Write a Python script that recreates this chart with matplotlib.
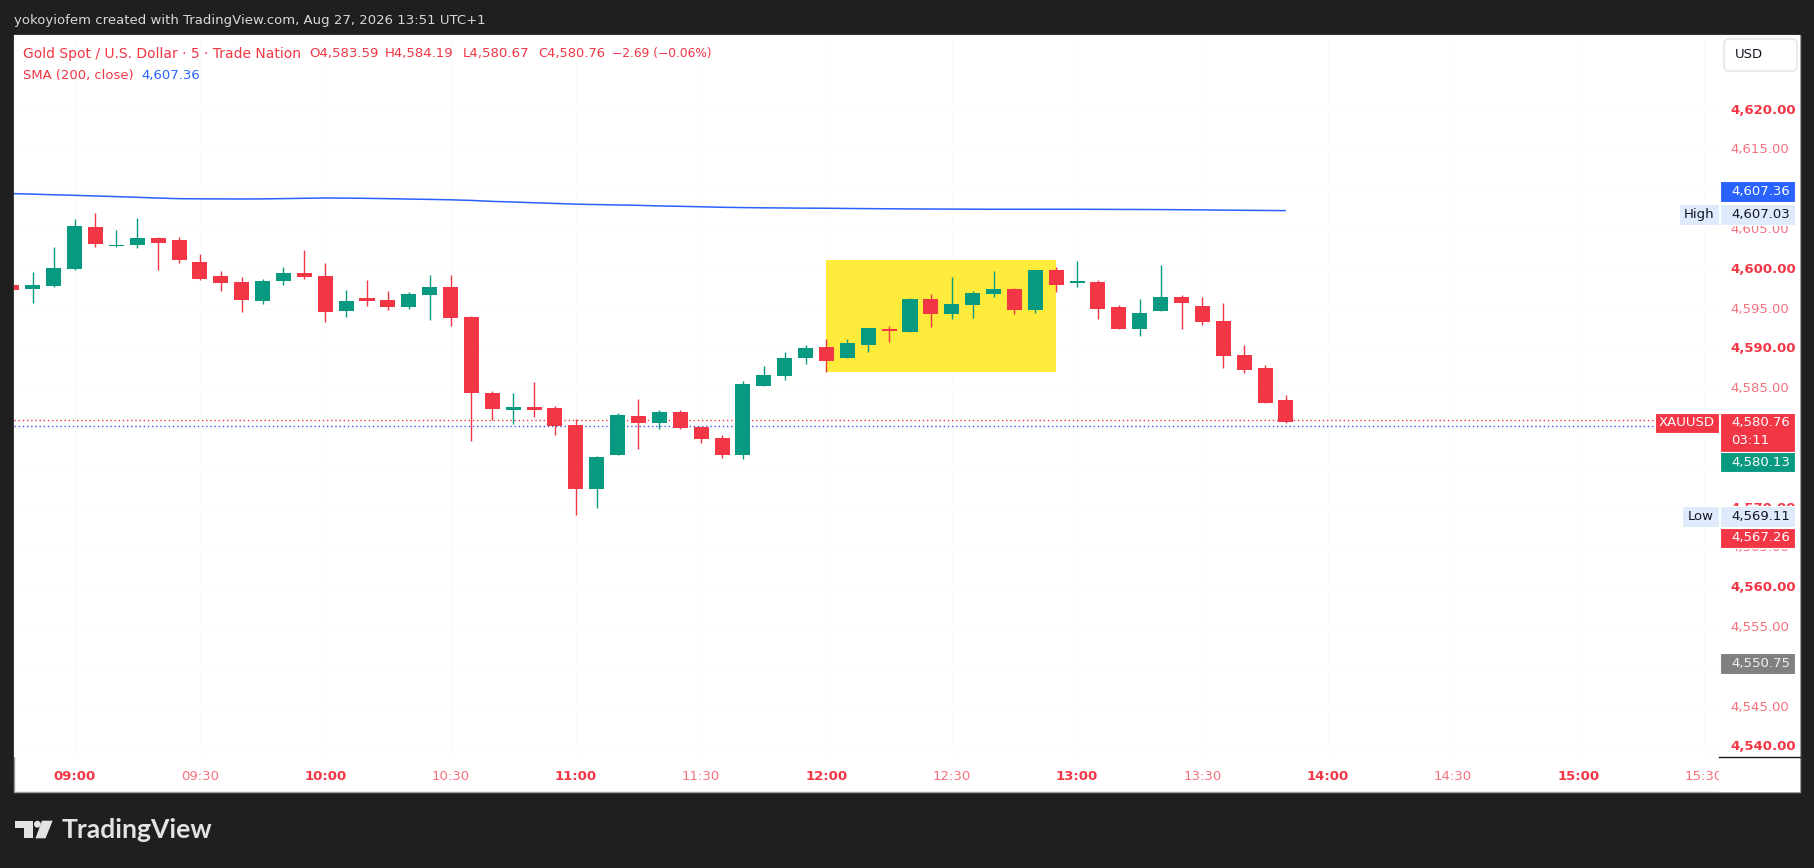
import matplotlib
matplotlib.use("Agg")
import matplotlib.pyplot as plt
import matplotlib.transforms as mtransforms
from matplotlib.patches import Rectangle, FancyBboxPatch, Polygon, Circle

# ---------------------------------------------------------------- data
bar_times = ["08:45", "08:50", "08:55", "09:00", "09:05", "09:10", "09:15", "09:20",
             "09:25", "09:30", "09:35", "09:40", "09:45", "09:50", "09:55", "10:00",
             "10:05", "10:10", "10:15", "10:20", "10:25", "10:30", "10:35", "10:40",
             "10:45", "10:50", "10:55", "11:00", "11:05", "11:10", "11:15", "11:20",
             "11:25", "11:30", "11:35", "11:40", "11:45", "11:50", "11:55", "12:00",
             "12:05", "12:10", "12:15", "12:20", "12:25", "12:30", "12:35", "12:40",
             "12:45", "12:50", "12:55", "13:00", "13:05", "13:10", "13:15", "13:20",
             "13:25", "13:30", "13:35", "13:40", "13:45", "13:50"]

opens = [4598.00, 4597.50, 4597.89, 4600.03, 4605.30, 4602.92, 4603.04, 4603.92,
         4603.67, 4600.91, 4599.15, 4598.39, 4596.01, 4598.52, 4599.53, 4599.15,
         4594.75, 4596.38, 4596.13, 4595.25, 4596.76, 4597.77, 4593.99, 4584.45,
         4582.35, 4582.69, 4582.56, 4580.43, 4572.43, 4576.70, 4581.56, 4580.72,
         4582.06, 4580.17, 4578.79, 4576.70, 4585.37, 4586.62, 4588.88, 4590.22,
         4588.88, 4590.52, 4592.49, 4592.15, 4596.25, 4594.41, 4595.54, 4596.92,
         4597.51, 4594.91, 4599.90, 4598.35, 4598.39, 4595.25, 4592.53, 4594.79,
         4596.50, 4595.38, 4593.49, 4589.22, 4587.59, 4583.59]

highs = [4598.10, 4599.60, 4602.79, 4606.31, 4607.03, 4604.93, 4606.44, 4604.05,
         4604.05, 4601.91, 4599.78, 4599.02, 4598.77, 4600.28, 4602.42, 4600.78,
         4597.39, 4598.65, 4597.26, 4597.14, 4599.27, 4599.27, 4594.12, 4584.70,
         4584.45, 4585.83, 4582.81, 4581.14, 4576.53, 4581.93, 4583.69, 4582.31,
         4582.31, 4580.20, 4579.17, 4585.95, 4587.84, 4589.60, 4590.48, 4591.23,
         4591.23, 4592.65, 4592.86, 4596.38, 4596.88, 4599.02, 4597.26, 4599.77,
         4597.64, 4599.95, 4600.27, 4601.03, 4598.64, 4595.50, 4596.25, 4600.53,
         4596.76, 4596.50, 4595.75, 4590.47, 4587.96, 4584.19]

lows = [4597.30, 4595.80, 4597.80, 4599.90, 4602.79, 4602.79, 4602.67, 4599.90,
        4600.78, 4598.70, 4597.26, 4594.63, 4595.63, 4598.02, 4598.77, 4593.37,
        4594.00, 4595.38, 4594.88, 4595.00, 4593.62, 4592.87, 4578.46, 4581.10,
        4580.55, 4581.47, 4579.21, 4569.11, 4570.04, 4576.60, 4577.45, 4579.96,
        4579.96, 4578.21, 4576.32, 4576.20, 4585.30, 4586.12, 4588.13, 4587.13,
        4588.80, 4589.64, 4590.89, 4592.10, 4592.78, 4593.78, 4593.91, 4596.55,
        4594.41, 4594.54, 4597.18, 4597.81, 4593.78, 4592.50, 4591.65, 4594.75,
        4592.53, 4593.03, 4587.63, 4587.00, 4583.20, 4580.67]

closes = [4597.40, 4598.00, 4600.15, 4605.43, 4603.17, 4603.04, 4603.92, 4603.29,
          4601.16, 4598.77, 4598.27, 4596.13, 4598.52, 4599.53, 4599.02, 4594.63,
          4596.01, 4596.01, 4595.25, 4596.89, 4597.77, 4593.87, 4584.49, 4582.48,
          4582.69, 4582.35, 4580.34, 4572.43, 4576.41, 4581.68, 4580.72, 4582.06,
          4580.09, 4578.71, 4576.70, 4585.58, 4586.71, 4588.84, 4590.10, 4588.51,
          4590.73, 4592.61, 4592.28, 4596.25, 4594.41, 4595.63, 4597.01, 4597.51,
          4594.91, 4599.90, 4598.06, 4598.43, 4595.04, 4592.53, 4594.50, 4596.50,
          4595.79, 4593.41, 4589.13, 4587.38, 4583.23, 4580.76]

sma200 = [4609.50, 4609.43, 4609.35, 4609.28, 4609.20, 4609.12, 4609.03, 4608.94,
          4608.86, 4608.84, 4608.83, 4608.82, 4608.83, 4608.87, 4608.91, 4608.95,
          4608.93, 4608.90, 4608.86, 4608.81, 4608.77, 4608.72, 4608.64, 4608.52,
          4608.44, 4608.35, 4608.26, 4608.17, 4608.12, 4608.07, 4608.02, 4607.95,
          4607.90, 4607.84, 4607.78, 4607.74, 4607.71, 4607.69, 4607.67, 4607.66,
          4607.63, 4607.61, 4607.59, 4607.57, 4607.56, 4607.55, 4607.54, 4607.53,
          4607.53, 4607.53, 4607.53, 4607.53, 4607.52, 4607.51, 4607.50, 4607.49,
          4607.47, 4607.45, 4607.42, 4607.40, 4607.38, 4607.36]

price_ticks = [4540.0, 4545.0, 4550.0, 4555.0, 4560.0, 4565.0, 4570.0, 4575.0, 4580.0,
               4585.0, 4590.0, 4595.0, 4600.0, 4605.0, 4610.0, 4615.0, 4620.0]
hidden_price_ticks = [4580.0, 4610.0]   # fully covered by price tags in the reference
time_ticks = ["09:00", "09:30", "10:00", "10:30", "11:00", "11:30", "12:00", "12:30",
              "13:00", "13:30", "14:00", "14:30", "15:00", "15:30"]

zone_times = ["12:00", "12:55"]
zone_prices = [4587.13, 4601.16]

high_value = 4607.03
low_value = 4569.11
ask_value = 4580.13
bid_line_value = 4580.35
alert_red_value = 4567.26
gray_value = 4550.75
countdown = "03:11"
symbol_tag = "XAUUSD"
change_abs = "\u22122.69"
change_pct = "(\u22120.06%)"

header_text = "yokoyiofem created with TradingView.com, Aug 27, 2026 13:51 UTC+1"
title_text = "Gold Spot / U.S. Dollar \u00b7 5 \u00b7 Trade Nation"
sma_title = "SMA (200, close)"

# ---------------------------------------------------------------- style
GREEN = "#089981"
RED = "#f23645"
RED_LIGHT = "#f5727d"
BLUE = "#2962ff"
DARK = "#131722"
BG = "#1f1f1f"

W, H = 1814, 868
fig = plt.figure(figsize=(W / 100, H / 100), dpi=100, facecolor=BG)
renderer = fig.canvas.get_renderer()
# image-pixel transform (origin at top-left)
PIX = mtransforms.Affine2D().scale(1, -1).translate(0, H)


def fx(px):
    return px / W


def fy(py):
    return 1 - py / H


# price <-> pixel calibration of the reference
P_REF, Y_REF, PXD = 4620.0, 110.0, 7.96


def price_at(py):
    return P_REF - (py - Y_REF) / PXD


X0, PXM = 74.6, 4.177  # pixel of 09:00 and px per minute


def minute_at(px):
    return (px - X0) / PXM


def tmin(s):
    h, m = s.split(":")
    return (int(h) - 9) * 60 + int(m)


def fit_text(x, y, s, width, base=10, **kw):
    t = fig.text(x, y, s, transform=PIX, fontsize=base, **kw)
    w = t.get_window_extent(renderer).width
    t.set_fontsize(base * width / w)
    return t


# white panel
fig.add_artist(Rectangle((14, 35), 1786, 757, transform=PIX, facecolor="white",
                         edgecolor="#9a9da6", linewidth=1.0, zorder=-1))

# ---------------------------------------------------------------- main chart pane
ax = fig.add_axes([fx(14), fy(757), fx(1719) - fx(14), fy(35) - fy(757)], zorder=0)
ax.set_facecolor("white")
for s in ax.spines.values():
    s.set_visible(False)
ax.set_xlim(minute_at(14), minute_at(1719))
ax.set_ylim(price_at(757), price_at(35))
ax.set_xticks([tmin(t) for t in time_ticks])
ax.set_yticks(price_ticks)
ax.tick_params(length=0, labelbottom=False, labelleft=False)
ax.grid(True, color="#fbfbfc", linewidth=1.0, zorder=0)
ax.set_axisbelow(True)

# highlight zone
z0, z1 = tmin(zone_times[0]), tmin(zone_times[1])
ax.add_patch(Rectangle((z0, zone_prices[0]), z1 - z0, zone_prices[1] - zone_prices[0],
                       facecolor="#ffeb3b", edgecolor="none", zorder=1))

# candles
xm = [tmin(t) for t in bar_times]
cols = [GREEN if c >= o else RED for o, c in zip(opens, closes)]
ax.vlines(xm, lows, highs, colors=cols, linewidth=1.0, zorder=3)
min_h = 0.22
bottoms, heights = [], []
for o, c in zip(opens, closes):
    h = abs(c - o)
    if h < min_h:
        mid = (o + c) / 2
        bottoms.append(mid - min_h / 2)
        heights.append(min_h)
    else:
        bottoms.append(min(o, c))
        heights.append(h)
ax.bar(xm, heights, bottom=bottoms, width=3.6, color=cols, linewidth=0, zorder=4)

# SMA
ax.plot(xm, sma200, color=BLUE, linewidth=1.1, zorder=5, solid_capstyle="butt")

# price lines
ax.axhline(closes[-1] + 0.25, color=RED, linewidth=1.0, linestyle=(0, (1, 2)), zorder=2.5)
ax.axhline(bid_line_value, color="#3b5bdb", linewidth=1.0, linestyle=(0, (1, 2)), zorder=2.4)

# time labels
tr = mtransforms.blended_transform_factory(ax.transData, ax.transAxes)
ty = -(776 - 757) / (757 - 35)
for lab in time_ticks:
    bold = lab.endswith(":00")
    ax.text(tmin(lab), ty, lab, transform=tr, ha="center", va="center", fontsize=9.5,
            fontweight="bold" if bold else "normal", color=RED if bold else RED_LIGHT,
            clip_on=False)

# ---------------------------------------------------------------- price axis
axp = fig.add_axes([fx(1719), fy(792), fx(1800) - fx(1719), fy(35) - fy(792)], zorder=1)
axp.set_facecolor("white")
for s in axp.spines.values():
    s.set_visible(False)
axp.set_xticks([])
axp.set_yticks([])
axp.set_xlim(1719, 1800)
axp.set_ylim(price_at(792), price_at(35))

for p in price_ticks:
    if p in hidden_price_ticks:
        continue
    bold = (p % 10 == 0)
    axp.text(1730, p, f"{p:,.2f}", ha="left", va="center", fontsize=9.5,
             fontweight="bold" if bold else "normal", color=RED if bold else RED_LIGHT,
             zorder=2)

# separator under price axis
axp.plot([1719, 1800], [price_at(757), price_at(757)], color="#131722", linewidth=1.0,
         zorder=3, clip_on=False)


def tag(value, text, fc, tc, shift_px=0.0, h_px=21.0):
    yc = value - shift_px / PXD
    axp.add_patch(Rectangle((1720, yc - h_px / 2 / PXD), 75, h_px / PXD, facecolor=fc,
                            edgecolor="white", linewidth=0.8, zorder=5, clip_on=False))
    axp.text(1731, yc, text, ha="left", va="center", fontsize=9.5, color=tc, zorder=6,
             clip_on=False)
    return yc


def side_tag(value, text, x0, fc, tc, shift_px=0.0, h_px=21.0):
    yc = value - shift_px / PXD
    axp.add_patch(Rectangle((x0, yc - h_px / 2 / PXD), 1719 - x0, h_px / PXD, facecolor=fc,
                            edgecolor="white", linewidth=0.8, zorder=5, clip_on=False))
    axp.text((x0 + 1719) / 2, yc, text, ha="center", va="center", fontsize=9.5, color=tc,
             zorder=6, clip_on=False)


# SMA value (shifted up to avoid the High tag)
tag(sma200[-1], f"{sma200[-1]:,.2f}", BLUE, "white", shift_px=-19)
# High / Low
tag(high_value, f"{high_value:,.2f}", "#dfebfc", DARK, shift_px=1)
side_tag(high_value, "High", 1679, "#dfebfc", DARK, shift_px=1)
tag(low_value, f"{low_value:,.2f}", "#dfebfc", DARK, shift_px=1)
side_tag(low_value, "Low", 1682, "#dfebfc", DARK, shift_px=1)

# last price with countdown
lc = closes[-1]
top = lc + 9.5 / PXD
axp.add_patch(Rectangle((1720, top - 39 / PXD), 75, 39 / PXD, facecolor=RED,
                        edgecolor="white", linewidth=0.8, zorder=5, clip_on=False))
axp.text(1731, lc, f"{lc:,.2f}", ha="left", va="center", fontsize=9.5, color="white",
         zorder=6)
axp.text(1731, lc - 18.5 / PXD, countdown, ha="left", va="center", fontsize=9.5,
         color="white", zorder=6)
side_tag(lc, symbol_tag, 1655, RED, "white", shift_px=0.5, h_px=20)

tag(ask_value, f"{ask_value:,.2f}", GREEN, "white", shift_px=35, h_px=20)
tag(alert_red_value, f"{alert_red_value:,.2f}", RED, "white", shift_px=8, h_px=20)
tag(gray_value, f"{gray_value:,.2f}", "#808080", "#f0f0f0", shift_px=2, h_px=21)

# USD button
fig.add_artist(FancyBboxPatch((1724, 39), 73, 32, boxstyle="round,pad=0,rounding_size=5",
                              transform=PIX, facecolor="white", edgecolor="#e0e3eb",
                              linewidth=1.0, zorder=5))
fig.text(1735, 55, "USD", transform=PIX, ha="left", va="center", fontsize=9.5,
         color=DARK, zorder=6)

# ---------------------------------------------------------------- header / legend
fit_text(14, 20.5, header_text, 468, va="center", ha="left", color="#d9d9d9")

fit_text(23, 54, title_text, 277, va="center", ha="left", color=RED)
ohlc = [("O", opens[-1], 309, 69), ("H", highs[-1], 385, 69),
        ("L", lows[-1], 463, 67), ("C", closes[-1], 538, 67)]
for k, v, x, w in ohlc:
    fit_text(x, 54, f"{k}{v:,.2f}", w, va="center", ha="left", color=RED)
fit_text(612, 54, f"{change_abs} {change_pct}", 100, va="center", ha="left", color=RED)
fit_text(23, 75, sma_title, 110, va="center", ha="left", color=RED)
fit_text(141, 75, f"{sma200[-1]:,.2f}", 59, va="center", ha="left", color=BLUE)

# ---------------------------------------------------------------- TradingView logo
LOGO = "#e3e3e3"
fig.add_artist(Polygon([(15, 820.7), (33.3, 820.7), (33.3, 838.3), (24, 838.3), (24, 828.3),
                        (15, 828.3)], closed=True, transform=PIX, facecolor=LOGO,
                       edgecolor="none"))
fig.add_artist(Circle((37.4, 824.2), 3.4, transform=PIX, facecolor=LOGO, edgecolor="none"))
fig.add_artist(Polygon([(42, 820.7), (52.7, 820.7), (45.5, 838.3), (35.5, 838.3)],
                       closed=True, transform=PIX, facecolor=LOGO, edgecolor="none"))
fit_text(62, 838.3, "TradingView", 151, va="baseline", ha="left", color=LOGO,
         family="Lato", fontweight="bold")

fig.savefig("out.png", dpi=100, facecolor=BG)
